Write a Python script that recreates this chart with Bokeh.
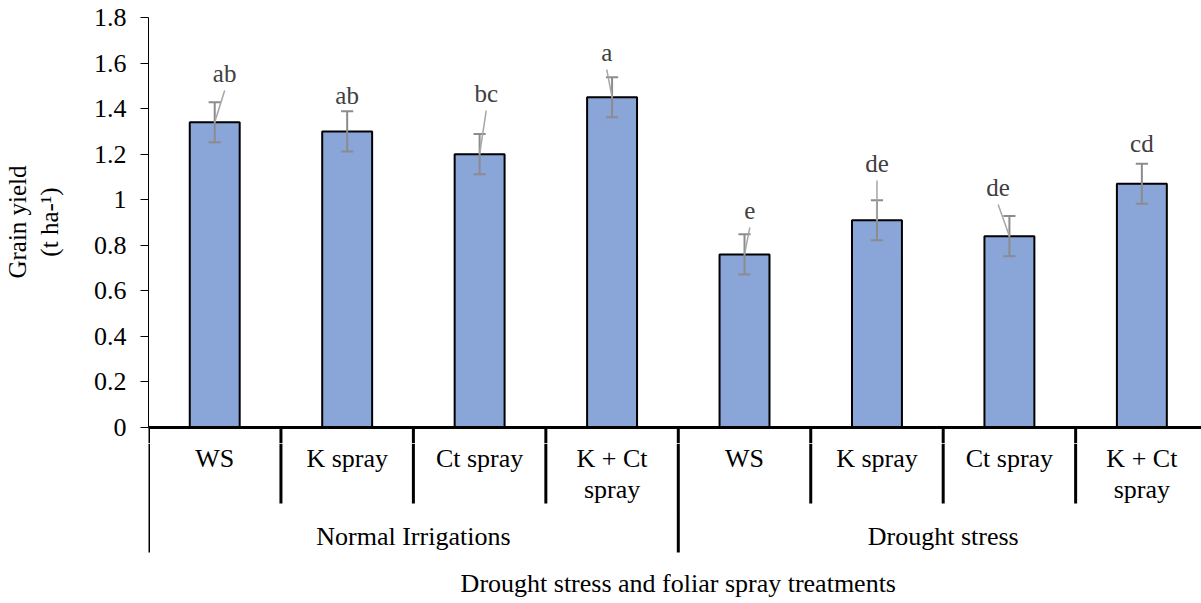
import textwrap
from bokeh.plotting import figure
from bokeh.layouts import column
from bokeh.models import Range1d, FixedTicker, Span
from bokeh.core.properties import value
from bokeh.embed import file_html
from bokeh.resources import INLINE

# ---------------- data ----------------
treatments = ["WS", "K spray", "Ct spray", "K + Ct spray"]
groups = ["Normal Irrigations", "Drought stress"]
grain_yield = [1.34, 1.30, 1.20, 1.45, 0.76, 0.91, 0.84, 1.07]
yield_err = [0.088, 0.088, 0.088, 0.088, 0.088, 0.088, 0.088, 0.088]
letters = ["ab", "ab", "bc", "a", "e", "de", "de", "cd"]
letter_y = [1.554, 1.457, 1.466, 1.646, 0.953, 1.159, 1.054, 1.247]
letter_dx = [0.075, 0.0, 0.05, -0.04, 0.04, 0.0, -0.085, 0.0]
has_leader = [True, False, True, True, True, True, True, False]
y_ticks = [0, 0.2, 0.4, 0.6, 0.8, 1, 1.2, 1.4, 1.6, 1.8]
y_tick_labels = ["0", "0.2", "0.4", "0.6", "0.8", "1", "1.2", "1.4", "1.6", "1.8"]
y_title = "Grain yield\n(t ha-\u00b9)"
x_title = "Drought stress and foliar spray treatments"

SERIF = "Liberation Serif"
n_cat = len(groups) * len(treatments)
cats = [t for g in groups for t in treatments]
xc = [i + 0.5 for i in range(n_cat)]

# ---------------- layout constants (pixels) ----------------
W, H = 1201, 603
LEFT, TOP, SPLIT = 146, 17, 443
Y0_PX = 427
px_per_unit = (Y0_PX - TOP) / 1.8
cat_px = 132.7
y_start = 1.8 - (SPLIT - TOP) / px_per_unit
y_end = 1.8 + TOP / px_per_unit

# ---------------- top figure: bars ----------------
p = figure(width=W, height=SPLIT, output_backend="svg", toolbar_location=None,
           x_axis_location=None,
           x_range=Range1d(0, (W - LEFT) / cat_px),
           y_range=Range1d(y_start, y_end),
           min_border_left=LEFT, min_border_right=0, min_border_top=0, min_border_bottom=0)
p.outline_line_color = None
p.xgrid.visible = False
p.ygrid.visible = False

ax = p.yaxis[0]
ax.bounds = (0, 1.8)
ax.ticker = FixedTicker(ticks=y_ticks)
ax.major_label_overrides = {t: l for t, l in zip(y_ticks, y_tick_labels)}
ax.major_label_text_font = SERIF
ax.major_label_text_font_size = "26px"
ax.major_label_text_color = "black"
ax.major_label_standoff = 14
ax.major_tick_out = 8
ax.major_tick_in = 0
ax.minor_tick_line_color = None
ax.axis_line_color = "black"
ax.axis_line_width = 1
ax.major_tick_line_color = "black"
ax.axis_label = y_title
ax.axis_label_text_font = SERIF
ax.axis_label_text_font_size = "25px"
ax.axis_label_text_font_style = "normal"
ax.axis_label_text_color = "black"
ax.axis_label_standoff = 28

# bars
p.vbar(x=xc, top=grain_yield, bottom=0, width=0.377,
       fill_color="#8AA5D8", line_color="black", line_width=2)

# error bars
hi = [v + e for v, e in zip(grain_yield, yield_err)]
lo = [v - e for v, e in zip(grain_yield, yield_err)]
cap = 0.046
err_col = "#8C8C8C"
p.segment(x0=xc, y0=lo, x1=xc, y1=hi, line_color=err_col, line_width=2)
p.segment(x0=[x - cap for x in xc], y0=hi, x1=[x + cap for x in xc], y1=hi, line_color=err_col, line_width=2)
p.segment(x0=[x - cap for x in xc], y0=lo, x1=[x + cap for x in xc], y1=lo, line_color=err_col, line_width=2)

# leader lines and letters
lx = [x + d for x, d in zip(xc, letter_dx)]
lead_gap = 17 / px_per_unit
L = [i for i in range(n_cat) if has_leader[i]]
p.segment(x0=[lx[i] for i in L], y0=[letter_y[i] - lead_gap for i in L],
          x1=[xc[i] for i in L], y1=[grain_yield[i] for i in L],
          line_color="#A6A6A6", line_width=1.5)
p.text(x=lx, y=letter_y, text=letters, text_align="center", text_baseline="middle",
       text_font=value(SERIF), text_font_size="25px", text_color="#404040")

# x axis line and the top part of the category separators
p.add_layout(Span(location=0, dimension="width", line_color="black", line_width=3))
bounds_x = list(range(n_cat))
p.segment(x0=bounds_x, y0=[0] * n_cat, x1=bounds_x, y1=[y_start] * n_cat,
          line_color="black", line_width=3)

# ---------------- bottom figure: category boxes ----------------
pb = figure(width=W, height=H - SPLIT, output_backend="svg", toolbar_location=None,
            x_axis_location=None, y_axis_location=None,
            x_range=p.x_range, y_range=Range1d(H, SPLIT),
            min_border_left=LEFT, min_border_right=0, min_border_top=0, min_border_bottom=0)
pb.outline_line_color = None
pb.xgrid.visible = False
pb.ygrid.visible = False

outer = [i % len(treatments) == 0 for i in bounds_x]
pb.segment(x0=bounds_x, y0=[SPLIT] * n_cat, x1=bounds_x,
           y1=[552 if o else 503 for o in outer],
           line_color="black", line_width=3)

tx, ty, tt = [], [], []
for x, c in zip(xc, cats):
    for k, ln in enumerate(textwrap.wrap(c, 8)):
        tx.append(x)
        ty.append(458 + 31 * k)
        tt.append(ln)
pb.text(x=tx, y=ty, text=tt, text_align="center", text_baseline="middle",
        text_font=value(SERIF), text_font_size="26px", text_color="black")

gx = [len(treatments) * (g + 0.5) for g in range(len(groups))]
pb.text(x=gx, y=[536] * len(groups), text=groups, text_align="center",
        text_baseline="middle", text_font=value(SERIF), text_font_size="26px",
        text_color="black")

pb.text(x=[n_cat / 2], y=[583], text=[x_title], text_align="center",
        text_baseline="middle", text_font=value(SERIF), text_font_size="26px",
        text_color="black")

layout = column(p, pb, spacing=0)
open("out.html", "w").write(file_html(layout, INLINE))
